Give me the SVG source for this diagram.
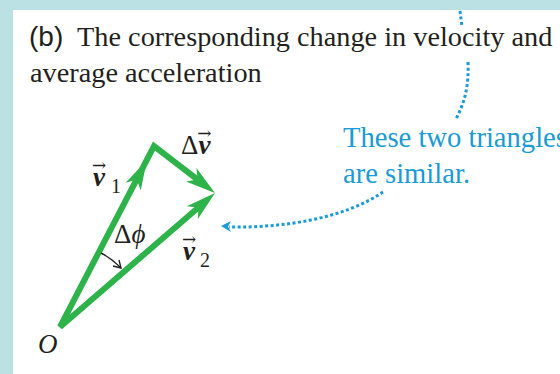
<svg xmlns="http://www.w3.org/2000/svg" width="560" height="374" viewBox="0 0 560 374">
<defs>
<style>
.cap{font-family:"Liberation Serif","Times New Roman",serif;font-size:28.3px;fill:#231f20}
.capb{font-family:"Liberation Sans",Arial,sans-serif;font-size:28px;fill:#231f20}
.lbl{font-family:"Liberation Serif","Times New Roman",serif;font-size:27px;fill:#231f20}
.bv{font-weight:bold;font-style:italic}
.it{font-style:italic}
.sub{font-size:20px}
.ar{font-family:"DejaVu Serif","Liberation Serif",serif;font-size:17px;font-weight:normal;font-style:normal}
.vec{stroke:#2db34a;stroke-width:6;fill:none;stroke-linejoin:miter;stroke-miterlimit:4}
.head{fill:#2db34a}
.note{font-family:"Liberation Serif","Times New Roman",serif;font-size:28.6px;fill:#1a9ad6}
.dot{stroke:#1a9ad6;stroke-width:3;fill:none;stroke-dasharray:3 2.5}
</style>
<path id="gh" d="M0,0 L-30,-8.5 L-22,0 L-30,8.5 Z"/>
</defs>
<g id="frame">
<rect width="560" height="374" fill="#bce1e5"/>
<rect x="13" y="10" width="547" height="364" fill="#ffffff"/>
</g>
<g id="caption">
<text class="capb" x="29" y="46">(b)</text>
<text class="cap" x="77" y="46">The corresponding change in velocity and</text>
<text class="cap" x="30" y="82">average acceleration</text>
</g>
<g id="triangle">
<path class="vec" d="M198.4 207.4 L60 327 L154 146 L197.6 179.6"/>
<use href="#gh" class="head" transform="translate(147,160) rotate(-62.5)"/>
<use href="#gh" class="head" transform="translate(215,193) rotate(37.6)"/>
<use href="#gh" class="head" transform="translate(215,193) rotate(-40.8)"/>
</g>
<g id="angle">
<path d="M101 253 Q111 258 121 268" fill="none" stroke="#231f20" stroke-width="1.4"/>
<path d="M113 266 L121 268 L119 260" fill="none" stroke="#231f20" stroke-width="1.4"/>
</g>
<g id="labels">
<g id="label-v1">
<text class="lbl" x="92" y="186"><tspan class="bv">v</tspan><tspan class="ar" dx="-13" dy="-15">→</tspan></text>
<text class="lbl sub" x="111" y="193">1</text>
</g>
<g id="label-dv">
<text class="lbl" x="181" y="154">Δ<tspan class="bv">v</tspan><tspan class="ar" dx="-13" dy="-15">→</tspan></text>
</g>
<g id="label-dphi">
<text class="lbl" x="114" y="243">Δ<tspan class="it">ϕ</tspan></text>
</g>
<g id="label-v2">
<text class="lbl" x="182" y="260"><tspan class="bv">v</tspan><tspan class="ar" dx="-13" dy="-15">→</tspan></text>
<text class="lbl sub" x="200" y="267">2</text>
</g>
<g id="label-O">
<text class="lbl it" x="38" y="353">O</text>
</g>
</g>
<g id="note">
<text class="note" x="343" y="147">These two triangles</text>
<text class="note" x="343" y="183">are similar.</text>
</g>
<g id="connectors">
<path class="dot" d="M460 11 L462 27"/>
<path class="dot" d="M468 62 C469 85 465 102 456 119"/>
<path class="dot" d="M383 192 C345 218 285 228 229 227"/>
<path d="M221 226 L231 221 L228 226.5 L231 232 Z" fill="#1a9ad6"/>
</g>
</svg>
